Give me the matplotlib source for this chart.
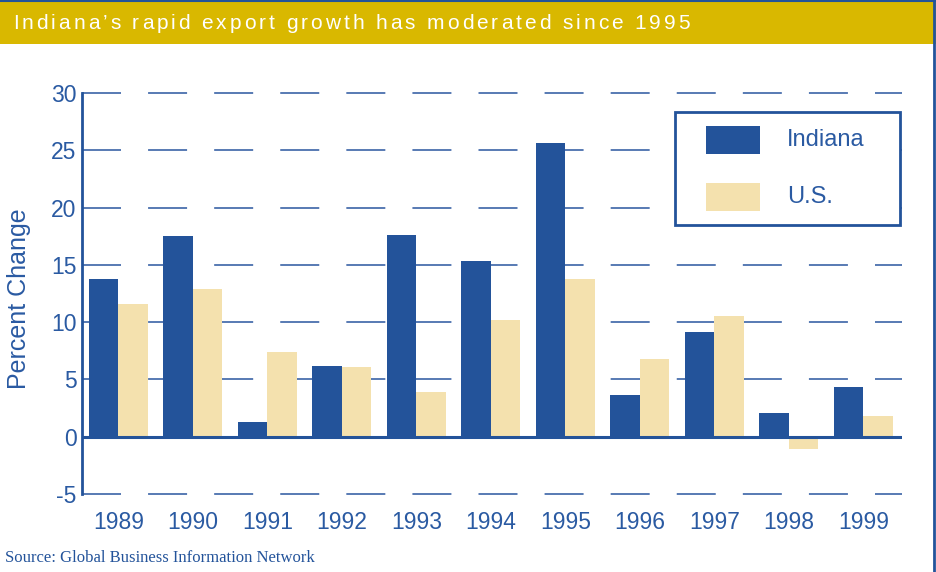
import matplotlib
matplotlib.use("Agg")
import matplotlib.pyplot as plt
import numpy as np
from matplotlib.lines import Line2D
from matplotlib.patches import Rectangle

years = ['1989', '1990', '1991', '1992', '1993', '1994', '1995', '1996', '1997', '1998', '1999']
indiana = [13.8, 17.5, 1.3, 6.2, 17.6, 15.3, 25.6, 3.6, 9.1, 2.1, 4.3]
us = [11.6, 12.9, 7.4, 6.1, 3.9, 10.2, 13.8, 6.8, 10.5, -1.1, 1.8]
series_names = ['Indiana', 'U.S.']
yticks = [-5, 0, 5, 10, 15, 20, 25, 30]
title = 'Indiana\u2019s rapid export growth has moderated since 1995'
source = 'Source: Global Business Information Network'

blue = '#23539a'
label_blue = '#2a5aa2'
tan = '#f4e1ae'
gold = '#d9b800'
grid_blue = '#4a6fae'

plt.rcParams['font.family'] = ['Liberation Sans', 'DejaVu Sans']

W, H = 937, 572
fig = plt.figure(figsize=(W / 100, H / 100), dpi=100)


def fx(px):
    return px / W


def fy(px):
    return 1 - px / H


def spaced_text(x0, x1, y, s, **kw):
    # spread the characters of s evenly between pixel x0 and x1
    r = fig.canvas.get_renderer()

    def width(txt):
        t = fig.text(0, 0, txt, **kw)
        w = t.get_window_extent(r).width
        t.remove()
        return w

    bar_w = width('|')
    full = width(s)
    extra = ((x1 - x0) - full) / (len(s) - 1)
    for i, ch in enumerate(s):
        if ch == ' ':
            continue
        pre = width(s[:i] + '|') - bar_w if i else 0
        fig.text(fx(x0 + pre + extra * i), y, ch, ha='left', **kw)


# header band
fig.add_artist(Rectangle((0, fy(44)), 1, 44 / H, transform=fig.transFigure,
                         facecolor=gold, edgecolor='none'))
spaced_text(13, 690, fy(29), title, color='white', fontsize=15, va='baseline')
fig.add_artist(Line2D([fx(934.5), fx(934.5)], [0, 1], transform=fig.transFigure,
                      color=blue, lw=2))
fig.add_artist(Line2D([0, 1], [fy(1), fy(1)], transform=fig.transFigure,
                      color=blue, lw=1.5))

ax = fig.add_axes([fx(82), fy(494), (902 - 82) / W, (494 - 93) / H])
x = np.arange(len(years))
w = 0.396
ax.bar(x - w / 2, indiana, w, color=blue, zorder=3)
ax.bar(x + w / 2, us, w, color=tan, zorder=3)

for yv in yticks:
    if yv == 0:
        continue
    ax.axhline(yv, color=grid_blue, lw=1.3, dashes=(21.6, 15), zorder=1, clip_on=False)
ax.axhline(0, color=blue, lw=2.2, zorder=4)

ax.set_xlim(-0.49, 10.52)
ax.set_ylim(-5, 30)
ax.set_yticks(yticks)
ax.set_yticklabels([str(v) for v in yticks])
ax.set_xticks(x)
ax.set_xticklabels(years)
ax.tick_params(axis='both', length=0, labelsize=16.5, colors=label_blue)
ax.tick_params(axis='y', pad=4)
ax.tick_params(axis='x', pad=12)
for s in ['top', 'right', 'bottom']:
    ax.spines[s].set_visible(False)
ax.spines['left'].set_color(blue)
ax.spines['left'].set_linewidth(2)

fig.text(fx(19), fy(299), 'Percent Change', rotation=90, color=label_blue,
         fontsize=18, va='center', ha='center')

# legend box
fig.add_artist(Rectangle((fx(675), fy(225)), (900 - 675) / W, (225 - 112) / H,
                         transform=fig.transFigure, facecolor='white',
                         edgecolor=blue, lw=2, zorder=5))
for name, col, top in zip(series_names, [blue, tan], [126, 183]):
    fig.add_artist(Rectangle((fx(706), fy(top + 28)), 54 / W, 28 / H,
                             transform=fig.transFigure, facecolor=col,
                             edgecolor='none', zorder=6))
    fig.text(fx(787), fy(top + 14), name, color=label_blue, fontsize=17,
             va='center', ha='left', zorder=6)

fig.text(fx(5), fy(558), source, color=blue, fontsize=12, va='center', ha='left',
         family=['Liberation Serif', 'DejaVu Serif'])

fig.savefig('out.png', dpi=100)
